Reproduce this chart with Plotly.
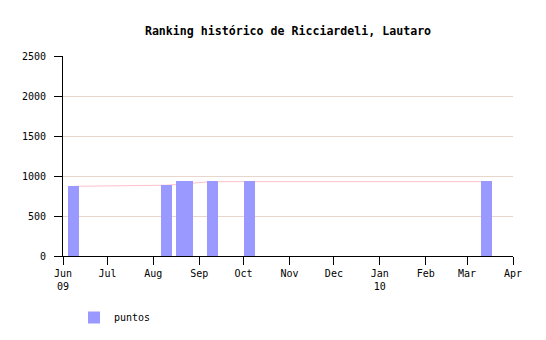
import plotly.graph_objects as go

# Data
bar_dates = ["2009-06-08", "2009-08-10", "2009-08-20", "2009-08-24", "2009-09-10", "2009-10-05", "2010-03-14"]
bar_values = [875, 887, 937, 937, 937, 937, 937]
line_dates = ["2009-06-08", "2009-08-10", "2009-08-20", "2009-08-24", "2009-09-10", "2009-10-05", "2010-03-14"]
line_values = [871, 885, 898, 906, 929, 929, 929]
tick_dates = ["2009-06-01", "2009-07-01", "2009-08-01", "2009-09-01", "2009-10-01", "2009-11-01",
              "2009-12-01", "2010-01-01", "2010-02-01", "2010-03-01", "2010-04-01"]
tick_labels = ["Jun<br>09", "Jul", "Aug", "Sep", "Oct", "Nov", "Dec", "Jan<br>10", "Feb", "Mar", "Apr"]
y_ticks = [0, 500, 1000, 1500, 2000, 2500]

MONO = "DejaVu Sans Mono"
WEEK_MS = 7.4 * 24 * 3600 * 1000

fig = go.Figure()
fig.add_trace(go.Scatter(x=line_dates, y=line_values, mode="lines",
                         line=dict(color="#ffc0c8", width=1), showlegend=False,
                         hoverinfo="skip", xaxis="x", yaxis="y"))
fig.add_trace(go.Bar(x=bar_dates, y=bar_values, name="puntos", width=WEEK_MS,
                     marker=dict(color="#9999ff", line=dict(width=0)),
                     xaxis="x", yaxis="y2"))

fig.update_layout(
    width=546, height=340,
    margin=dict(l=63, r=33, t=56, b=84, autoexpand=False),
    paper_bgcolor="white", plot_bgcolor="white",
    title=dict(text="<b>Ranking histórico de Ricciardeli, Lautaro</b>",
               font=dict(family=MONO, size=11.6, color="black"),
               x=0.5275, xanchor="center", y=1 - 31 / 340, yanchor="middle"),
    font=dict(family=MONO, size=10, color="black"),
    xaxis=dict(type="date", range=["2009-06-01", "2010-04-01"],
               tickmode="array", tickvals=tick_dates, ticktext=tick_labels,
               showgrid=False, zeroline=False, showline=True, linecolor="black", linewidth=1,
               ticks="outside", ticklen=8, tickcolor="black",
               tickfont=dict(family=MONO, size=10, color="black"), automargin=False),
    yaxis=dict(range=[0, 2500], tickmode="array", tickvals=y_ticks,
               showgrid=True, gridcolor="#e8d6cc", gridwidth=1,
               zeroline=False, showline=True, linecolor="black", linewidth=1,
               ticks="outside", ticklen=8, tickcolor="black",
               ticklabelstandoff=6, automargin=False,
               tickfont=dict(family=MONO, size=10, color="black")),
    yaxis2=dict(range=[0, 2500], overlaying="y", visible=False),
    showlegend=True,
    legend=dict(x=0.0244, xanchor="left", y=-0.235, yanchor="top",
                orientation="h", font=dict(family=MONO, size=10, color="black"),
                bgcolor="rgba(0,0,0,0)"),
    bargap=0,
)

fig.write_html("out.html")
